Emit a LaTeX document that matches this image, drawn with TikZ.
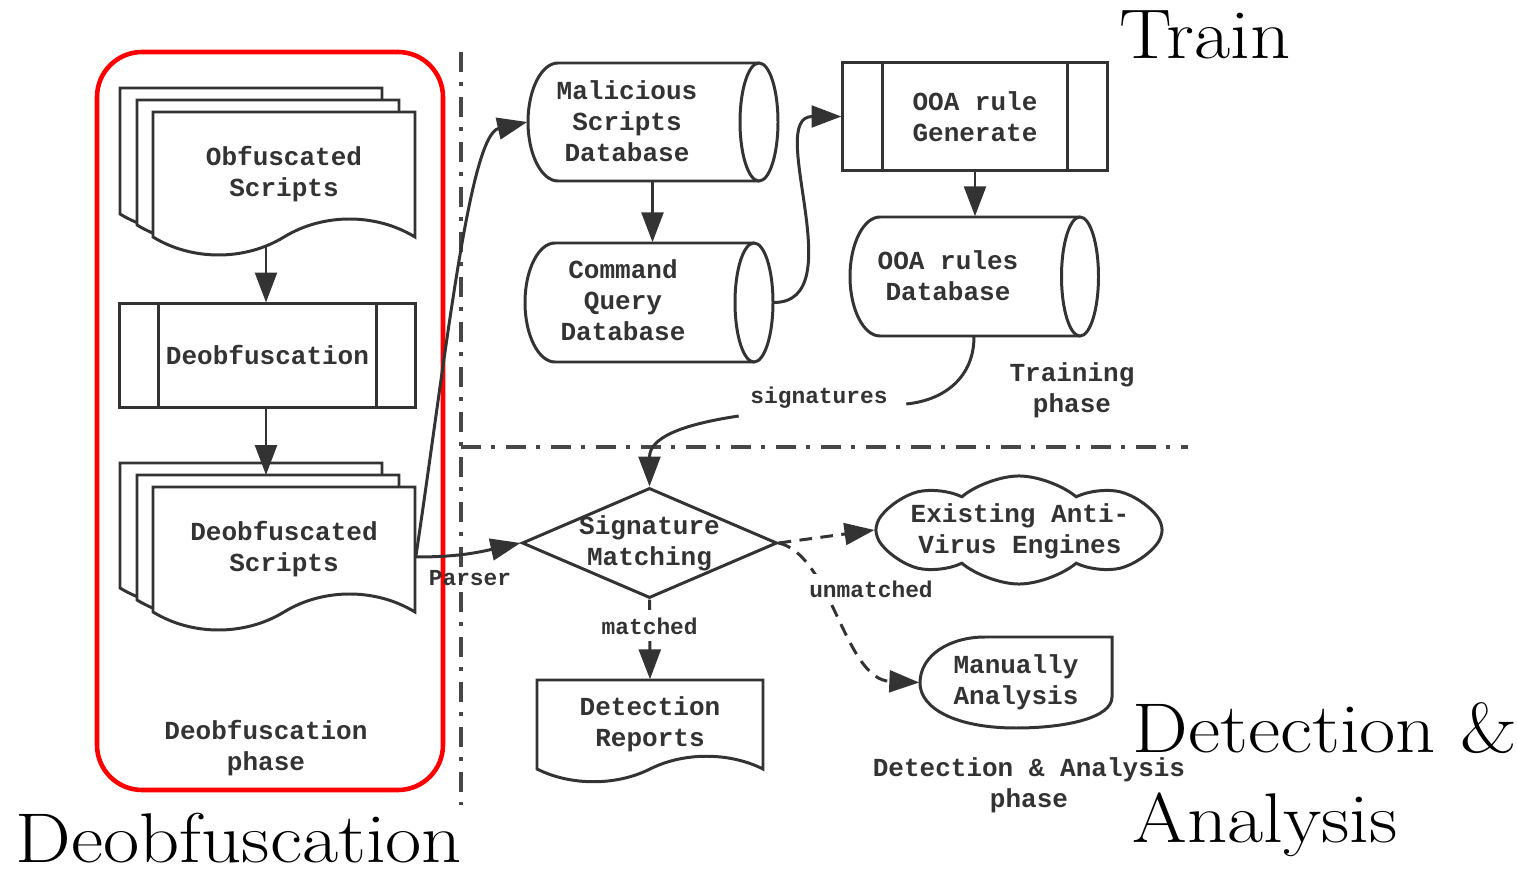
\documentclass[tikz,border=0pt]{standalone}
\usepackage{fontspec}
\newfontfamily\flowfont{Liberation Mono}
\newfontfamily\titlefont{Latin Modern Roman}[FakeStretch=1.12]
\usetikzlibrary{arrows.meta,shapes.geometric,shapes.symbols,calc}

\definecolor{ink}{HTML}{333333}

% sheet with a wavy lower edge: x, y (top left), width, height, wave
\newcommand{\docsheet}[5]{%
  \draw[shape line] (#1,#2) -- (#1+#3,#2) -- (#1+#3,#2+#4)
    .. controls (#1+0.85*#3,#2+#4-#5) and (#1+0.65*#3,#2+#4-#5) .. (#1+0.5*#3,#2+#4)
    .. controls (#1+0.35*#3,#2+#4+#5) and (#1+0.15*#3,#2+#4+#5) .. (#1,#2+#4) -- cycle;}

% database drum: left x, top, bottom, cap centre x, left radius, cap radius
\newcommand{\dbdrum}[6]{%
  \pgfmathsetmacro{\drummid}{(#2+#3)/2}%
  \pgfmathsetmacro{\drumry}{(#3-#2)/2}%
  \draw[shape line] (#4,#2) -- (#1+#5,#2)
    .. controls (#1+0.45*#5,#2) and (#1,\drummid-0.55*\drumry) .. (#1,\drummid)
    .. controls (#1,\drummid+0.55*\drumry) and (#1+0.45*#5,#3) .. (#1+#5,#3) -- (#4,#3);
  \draw[shape line] (#4,\drummid) ellipse [x radius=#6, y radius=\drumry];}

\tikzset{
  procbox/.style={draw=ink, line width=0.85pt, rectangle,
    path picture={\draw[ink, line width=0.85pt]
      ([xshift=#1]path picture bounding box.north west) -- ([xshift=#1]path picture bounding box.south west)
      ([xshift=-#1]path picture bounding box.north east) -- ([xshift=-#1]path picture bounding box.south east);}},
  holder/.style={rectangle, inner sep=0pt},
}

\begin{document}
\begin{tikzpicture}[x=0.01cm, y=-0.01cm,
    shape line/.style={draw=ink, line width=0.85pt, fill=white},
    wire/.style={draw=ink, line width=0.85pt},
    flow/.style={wire, -{Triangle[length=8.5pt,width=6.2pt]}},
    maybe/.style={flow, dash pattern=on 3.6pt off 2.4pt},
    flowtext/.style={text=ink, font=\flowfont\bfseries\fontsize{7.4}{8.8}\selectfont, align=center, inner sep=0pt},
    edgetext/.style={text=ink, font=\flowfont\bfseries\fontsize{6.5}{7.8}\selectfont, fill=white, inner sep=2pt},
    bigtext/.style={font=\titlefont\fontsize{20}{24}\selectfont, inner sep=0pt},
    sepline/.style={draw=ink!90, line width=1.1pt, dash pattern=on 5.7pt off 2.8pt on 1.1pt off 3.2pt}]

\useasboundingbox (0,0) rectangle (1517,873);

% deobfuscation phase
\draw[red, line width=1.3pt, rounded corners=0.45cm] (97,52) rectangle (443,790);

\docsheet{120}{88}{262}{126}{24}
\docsheet{137}{100}{262}{125}{24}
\docsheet{153}{112}{262}{125}{24}
\node[flowtext, minimum width=2.62cm, minimum height=1.25cm] (obf) at (284,174.5) {Obfuscated\\Scripts};

\node[flowtext, procbox=0.385cm, minimum width=2.95cm, minimum height=1.03cm] (deob) at (267.5,355.5) {Deobfuscation};

\docsheet{120}{463}{262}{125}{24}
\docsheet{137}{475}{262}{125}{24}
\docsheet{153}{487}{262}{125}{24}
\node[flowtext, minimum width=2.62cm, minimum height=1.25cm] (dsc) at (284,549.5) {Deobfuscated\\Scripts};

\node[flowtext] (deobphase) at (266,748) {Deobfuscation\\phase};

\coordinate (obfwave) at (266,245);
\coordinate (dscback) at (266,475);
\coordinate (dscout) at ($(dsc.east)+(0,7.5)$);
\draw[flow] (obfwave) -- (obfwave |- deob.north);
\draw[flow] (deob.south -| dscback) -- (dscback);

% phase borders
\draw[sepline] (461,52) -- (461,805);
\draw[sepline] (461,447) -- (1188,447);

% training phase
\dbdrum{528}{63}{181}{759}{30}{19}
\node[holder, minimum width=2.49cm, minimum height=1.18cm] (msdb) at (652.5,122) {};
\node[flowtext] (msdb-t) at (627,121) {Malicious\\Scripts\\Database};

\dbdrum{525}{243}{362}{754}{30}{19}
\node[holder, minimum width=2.48cm, minimum height=1.19cm] (cqdb) at (649,302.5) {};
\node[flowtext] (cqdb-t) at (623,300) {Command\\Query\\Database};

\node[flowtext, procbox=0.395cm, minimum width=2.64cm, minimum height=1.07cm] (gen) at (975,116.5) {OOA rule\\Generate};

\dbdrum{850}{217}{336}{1080}{30}{18.5}
\node[holder, minimum width=2.48cm, minimum height=1.19cm] (ooadb) at (974,276.5) {};
\node[flowtext] (ooadb-t) at (948,276) {OOA rules\\Database};

\node[flowtext] (trainphase) at (1072,390) {Training\\phase};

\draw[flow] (msdb.south) -- (msdb.south |- cqdb.north);
\draw[flow] (cqdb.east) .. controls +(80,0) and +(-77,0) .. (gen.west);
\draw[flow] (gen.south) -- (gen.south |- ooadb.north);
\draw[flow] (dscout) .. controls +(30,-200) and +(-58,13) .. (msdb.west);

% detection & analysis phase
\node[diamond, draw=ink, line width=0.85pt, minimum width=2.55cm, minimum height=1.1cm, inner sep=0pt] (sm) at (649.5,543) {};
\node[flowtext] (sm-t) at (sm.center) {Signature\\Matching};

\node[edgetext, inner xsep=0.18cm] (sig) at (819,398) {signatures};
\draw[wire] (ooadb.south) .. controls +(0,39) and +(40,-4) .. ($(sig.east)+(0,6)$);
\draw[flow] ($(sig.west)+(7,18)$) .. controls +(-60,9) and +(0,-48) .. (sm.north);

\draw[flow] (dscout) .. controls +(40,0) and +(-45,10) .. (sm.west);
\node[edgetext, fill=none] (parser) at (470,578) {Parser};

\node[cloud, cloud puffs=8, cloud puff arc=80, aspect=2.7, draw=ink, line width=0.85pt,
      minimum width=2.86cm, minimum height=1.08cm, inner sep=0pt] (avcloud) at (1019,530) {};
\node[flowtext] (avcloud-t) at (1020,531) {Existing Anti-\\Virus Engines};

\draw[shape line] (1112,637) -- (1112,697) .. controls (1112,718) and (1065,728) .. (1016,728)
  .. controls (955,728) and (920,708) .. (920,683) .. controls (920,655) and (950,637) .. (985,637) -- cycle;
\node[flowtext, minimum width=1.92cm, minimum height=0.91cm] (manual) at (1016,682.5) {Manually\\Analysis};

\docsheet{537}{680}{226}{89}{17}
\node[flowtext, minimum width=2.26cm, minimum height=0.89cm] (reports) at (650,724.5) {Detection\\Reports};

\draw[flow] (sm.south) -- node[edgetext, pos=0.33] (matched) {matched} (reports.north);
\draw[maybe] (sm.east) -- (avcloud.west);
\draw[maybe] (sm.east) .. controls +(53,12) and +(-75,-3) .. (manual.west);
\node[edgetext] (unmatched) at (871,589) {unmatched};

\node[flowtext] (detphase) at (1029,785) {Detection \& Analysis\\phase};

% phase titles
\node[bigtext, anchor=base] (train) at (1205,59) {Train};
\node[bigtext, anchor=base] (deobtitle) at (239,863) {Deobfuscation};
\node[bigtext, anchor=base west] (dettitle) at (1132,752) {Detection \&};
\node[bigtext, anchor=base west] (antitle) at (1132,843) {Analysis};

\end{tikzpicture}
\end{document}
